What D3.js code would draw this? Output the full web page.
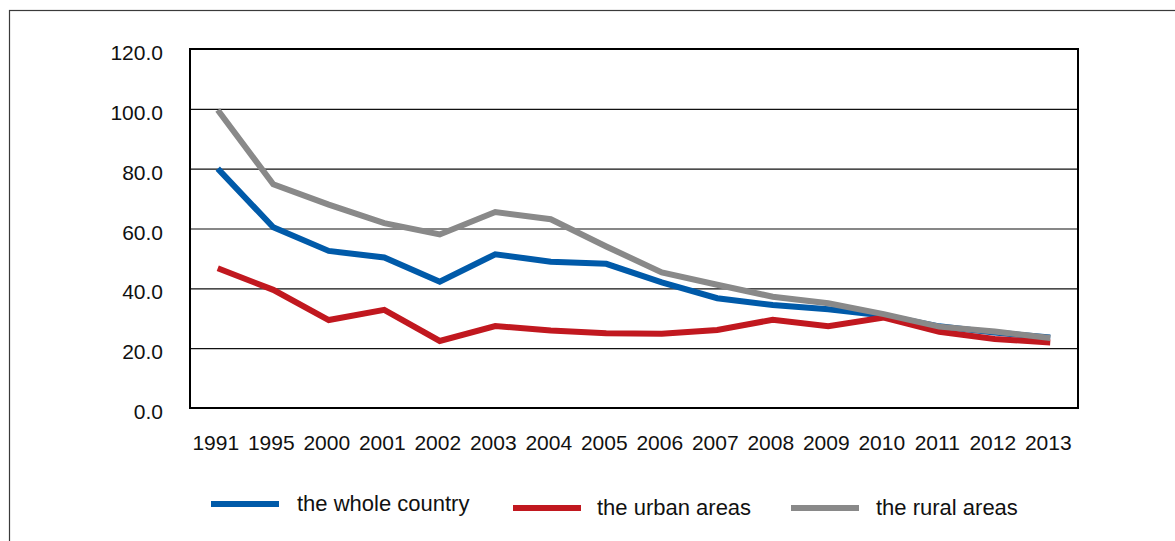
<!DOCTYPE html>
<html>
<head>
<meta charset="utf-8">
<script src="https://cdn.jsdelivr.net/npm/d3@7"></script>
<style>
  body { margin: 0; background: #fff; }
  text { font-family: "Liberation Sans", Arial, sans-serif; fill: #111; }
</style>
</head>
<body>
<script>
var years = ["1991","1995","2000","2001","2002","2003","2004","2005","2006","2007","2008","2009","2010","2011","2012","2013"]
var wholeCountry = [80, 60.4, 52.5, 50.3, 42.2, 51.4, 48.9, 48.2, 42, 36.7, 34.4, 33, 30.9, 27.3, 25.2, 23.6]
var urbanAreas = [46.7, 39.5, 29.4, 32.8, 22.4, 27.4, 25.9, 25, 24.8, 26.1, 29.5, 27.3, 30.2, 25.5, 23.1, 21.9]
var ruralAreas = [99.6, 74.8, 68, 61.8, 58, 65.5, 63.1, 54, 45.3, 41.2, 37.2, 35, 31.4, 27.2, 25.6, 23.4]
var yTicks = [0, 20, 40, 60, 80, 100, 120]
var seriesNames = ["the whole country", "the urban areas", "the rural areas"]
var seriesColors = ["#005aa9", "#c1181f", "#898989"]

var width = 1175, height = 541
var plotLeft = 190, plotRight = 1078, plotTop = 49, plotBottom = 408

var svg = d3.select("body").append("svg")
    .attr("width", width)
    .attr("height", height)

// outer frame, runs off the right and bottom edge
svg.append("rect")
    .attr("x", 9.5).attr("y", 10.5)
    .attr("width", 1300).attr("height", 700)
    .attr("fill", "none")
    .attr("stroke", "#3a3a3a")
    .attr("stroke-width", 1.2)

var x = d3.scalePoint()
    .domain(years)
    .range([plotLeft, plotRight])
    .padding(0.5)

var y = d3.scaleLinear()
    .domain([0, 120])
    .range([plotBottom, plotTop])

// gridlines
svg.append("g").selectAll("line")
    .data(yTicks.filter(function(d) { return d > 0 && d < 120 }))
    .enter().append("line")
    .attr("x1", plotLeft).attr("x2", plotRight)
    .attr("y1", function(d) { return y(d) + 0.5 })
    .attr("y2", function(d) { return y(d) + 0.5 })
    .attr("stroke", "#111")
    .attr("stroke-width", 1.2)

// y labels
svg.append("g").selectAll("text")
    .data(yTicks)
    .enter().append("text")
    .attr("x", 163)
    .attr("y", function(d) { return y(d) + 11 })
    .attr("text-anchor", "end")
    .style("font-size", "21px")
    .text(function(d) { return d.toFixed(1) })

// x labels
svg.append("g").selectAll("text")
    .data(years)
    .enter().append("text")
    .attr("x", function(d) { return x(d) - 2 })
    .attr("y", 450)
    .attr("text-anchor", "middle")
    .style("font-size", "21px")
    .text(function(d) { return d })

// plot frame
svg.append("rect")
    .attr("x", plotLeft).attr("y", plotTop)
    .attr("width", plotRight - plotLeft).attr("height", plotBottom - plotTop)
    .attr("fill", "none")
    .attr("stroke", "#000")
    .attr("stroke-width", 2)

var line = d3.line()
    .x(function(d, i) { return x(years[i]) })
    .y(function(d) { return y(d) })

var allSeries = [wholeCountry, urbanAreas, ruralAreas]
// draw order: blue, red, gray on top
allSeries.forEach(function(s, k) {
  svg.append("path")
    .datum(s)
    .attr("d", line)
    .attr("fill", "none")
    .attr("stroke", seriesColors[k])
    .attr("stroke-width", 6)
    .attr("stroke-linejoin", "miter")
})

// legend
var legendX = [211, 513, 791]
var legendY = [504, 508, 508]
var legendTextX = [297, 597, 876]
var legend = svg.append("g")
seriesNames.forEach(function(name, i) {
  legend.append("line")
    .attr("x1", legendX[i]).attr("x2", legendX[i] + 68)
    .attr("y1", legendY[i]).attr("y2", legendY[i])
    .attr("stroke", seriesColors[i])
    .attr("stroke-width", 6)
  legend.append("text")
    .attr("x", legendTextX[i])
    .attr("y", legendY[i] + 7)
    .style("font-size", "22px")
    .text(name)
})
</script>
</body>
</html>
